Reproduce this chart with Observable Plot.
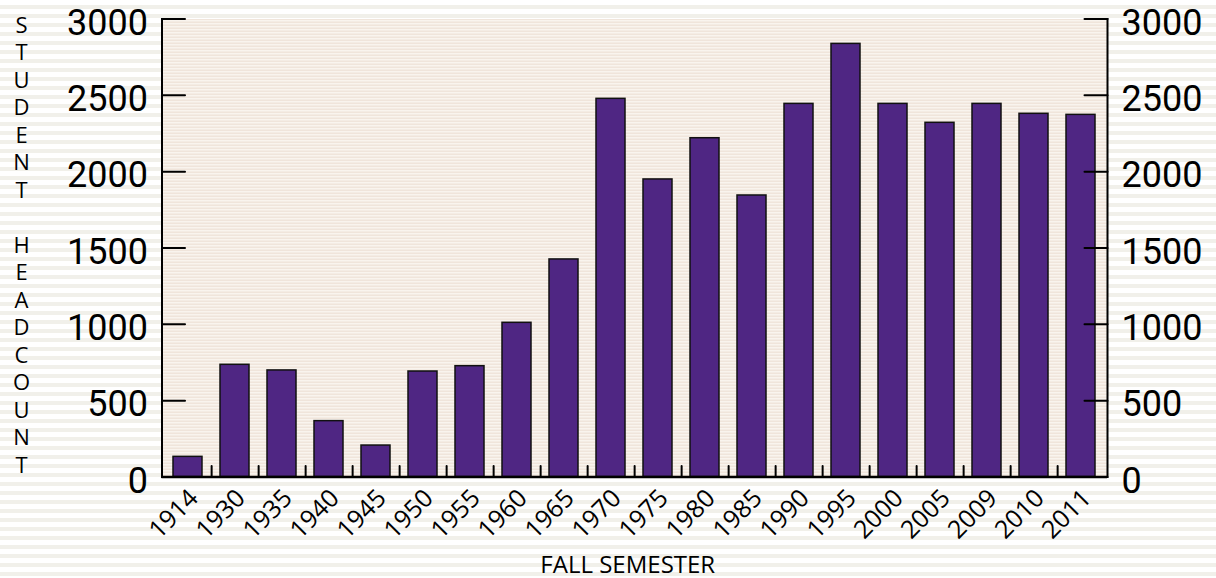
<!DOCTYPE html>
<html>
<head>
<meta charset="utf-8">
<script src="https://cdn.jsdelivr.net/npm/d3@7"></script>
<script src="https://cdn.jsdelivr.net/npm/@observablehq/plot@0.6"></script>
<style>
  html, body { margin: 0; padding: 0; }
  body {
    width: 1216px; height: 578px; overflow: hidden;
    background: repeating-linear-gradient(to bottom, #ffffff 0px, #ffffff 5px, #f1f0ea 5px, #f1f0ea 9px);
    font-family: "Open Sans", sans-serif;
  }
  svg { display: block; overflow: visible; }
</style>
</head>
<body>
<div id="chart"></div>
<script>
const years = ["1914","1930","1935","1940","1945","1950","1955","1960","1965","1970",
               "1975","1980","1985","1990","1995","2000","2005","2009","2010","2011"];
const headcount = [132, 735, 698, 366, 206, 691, 726, 1010, 1425, 2477,
                   1949, 2219, 1844, 2444, 2837, 2444, 2320, 2444, 2379, 2372];
const yTicks = [0, 500, 1000, 1500, 2000, 2500, 3000];
const yTitle = "STUDENT HEADCOUNT";
const xTitle = "FALL SEMESTER";

const data = years.map((y, i) => ({year: y, count: headcount[i]}));

const W = 1216, H = 578;
const mL = 161.5, mR = 109, mT = 18.5, mB = 101.5;
const step = (W - mL - mR) / years.length;

const tickShape = {draw(ctx, l) { ctx.moveTo(0, 0); ctx.lineTo(0, -l); }};
const ink = "#000000";

const chart = Plot.plot({
  width: W, height: H,
  marginLeft: mL, marginRight: mR, marginTop: mT, marginBottom: mB,
  style: {fontFamily: "Open Sans", background: "transparent", color: ink},
  x: {domain: years, paddingInner: 0.385, paddingOuter: 0.1925, axis: null},
  y: {domain: [0, 3000], axis: null},
  marks: [
    Plot.frame({fill: "url(#innerStripes)", stroke: null}),
    Plot.barY(data, {x: "year", y: "count", fill: "#4f2683", stroke: "#111", strokeWidth: 1.5}),
    // axis lines
    Plot.frame({anchor: "left", stroke: ink, strokeWidth: 2}),
    Plot.frame({anchor: "right", stroke: ink, strokeWidth: 2}),
    Plot.ruleY([0], {stroke: ink, strokeWidth: 2.5}),
    // inward y ticks
    Plot.vector(yTicks, {y: d => d, frameAnchor: "left", length: 23, rotate: 90, anchor: "start", shape: tickShape, stroke: ink, strokeWidth: 2}),
    Plot.vector(yTicks, {y: d => d, frameAnchor: "right", length: 23, rotate: -90, anchor: "start", shape: tickShape, stroke: ink, strokeWidth: 2}),
    // separators between bars
    Plot.vector(years.slice(0, -1), {x: d => d, frameAnchor: "bottom", length: 11, rotate: 0, anchor: "start", shape: tickShape, stroke: ink, strokeWidth: 2, dx: step / 2}),
    // y tick labels
    Plot.axisY({anchor: "left", ticks: yTicks, tickSize: 0, tickPadding: 14, fontSize: 36, fontFamily: "Roboto", dy: 4, label: null, tickFormat: d => String(d)}),
    Plot.axisY({anchor: "right", ticks: yTicks, tickSize: 0, tickPadding: 14, fontSize: 36, fontFamily: "Roboto", dy: 4, label: null, tickFormat: d => String(d)}),
    // x tick labels
    Plot.axisX({anchor: "bottom", tickSize: 0, tickPadding: 17, tickRotate: -45, fontSize: 25, label: null, dx: 6}),
    // y title (stacked letters)
    Plot.text([yTitle], {text: d => d.split("").join("\n"), frameAnchor: "left", dx: -140.5, dy: -4, fontSize: 22, lineHeight: 1.25, textAnchor: "middle", fill: ink}),
    // x title
    Plot.text([xTitle], {text: d => d, frameAnchor: "bottom", dx: -7, dy: 96, fontSize: 24, lineAnchor: "bottom", textAnchor: "middle", fill: ink})
  ]
});

d3.select(chart).insert("defs", ":first-child").html(
  '<pattern id="innerStripes" patternUnits="userSpaceOnUse" width="8" height="3">' +
  '<rect width="8" height="3" fill="#fcfaf7"/>' +
  '<rect width="8" height="1" y="0" fill="#ebddd0"/>' +
  '<rect width="8" height="1" y="1" fill="#f5ede5"/>' +
  '</pattern>'
);

document.getElementById("chart").appendChild(chart);
</script>
</body>
</html>
